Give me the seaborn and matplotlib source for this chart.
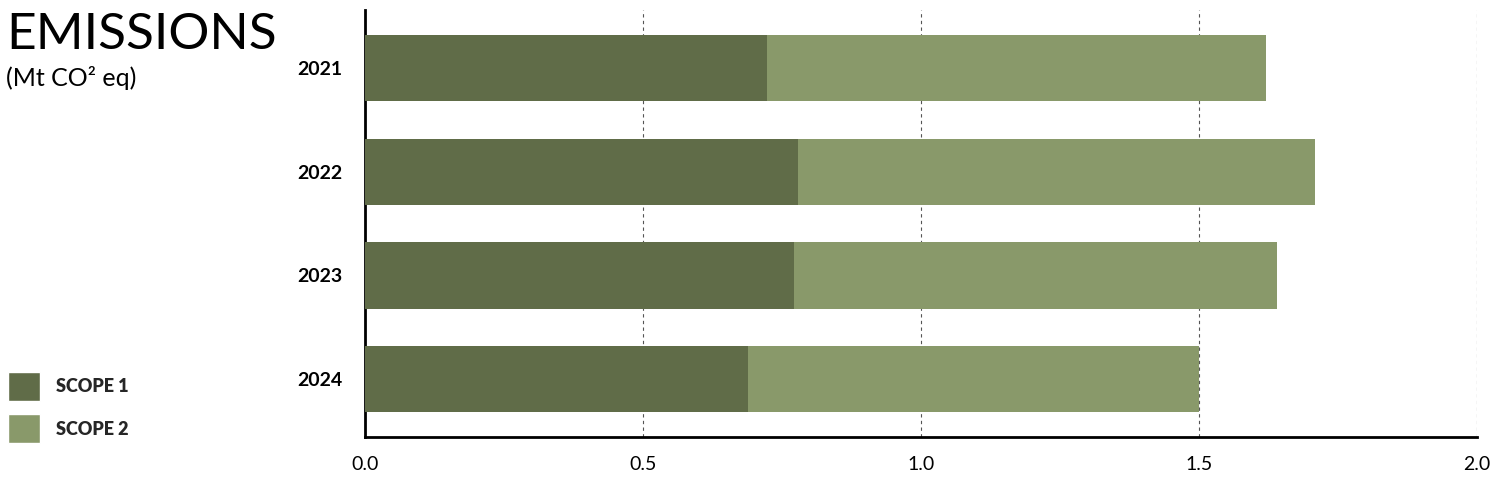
import matplotlib
matplotlib.use("Agg")
import matplotlib.pyplot as plt
import seaborn as sns
import pandas as pd
from matplotlib.patches import Patch

years = ["2021", "2022", "2023", "2024"]
scope1 = [0.723, 0.779, 0.772, 0.689]
scope2 = [0.897, 0.930, 0.868, 0.811]
x_ticks = [0.0, 0.5, 1.0, 1.5, 2.0]

DARK = "#606c48"
LIGHT = "#89996a"

sns.set_theme(style="white")
plt.rcParams["font.family"] = ["Lato", "DejaVu Sans"]

df = pd.DataFrame({"year": years, "scope1": scope1, "scope2": scope2})
df["total"] = df["scope1"] + df["scope2"]

fig = plt.figure(figsize=(15, 4.8), dpi=100)
ax = fig.add_axes([0.2433, 0.0896, 0.7414, 0.8894])

# stacked: total drawn first in light, scope 1 over it in dark
sns.barplot(data=df, x="total", y="year", orient="h", color=LIGHT,
            width=0.64, saturation=1, ax=ax, zorder=2, linewidth=0)
sns.barplot(data=df, x="scope1", y="year", orient="h", color=DARK,
            width=0.64, saturation=1, ax=ax, zorder=3, linewidth=0)

ax.set_xlim(0, 2.0)
ax.set_ylim(3.56, -0.56)
ax.set_xticks(x_ticks)
ax.set_xticklabels([f"{t:.1f}" for t in x_ticks], fontsize=14)
ax.tick_params(axis="x", length=0, pad=14)
ax.tick_params(axis="y", length=0, pad=16)
for lbl in ax.get_yticklabels():
    lbl.set_fontsize(14)
    lbl.set_fontweight("bold")
    lbl.set_color("black")
for lbl in ax.get_xticklabels():
    lbl.set_color("black")
ax.set_xlabel("")
ax.set_ylabel("")

for t in x_ticks[1:]:
    ax.axvline(t, color="#555555", linestyle=(0, (3, 3)), linewidth=0.8, zorder=1)

for s in ["top", "right"]:
    ax.spines[s].set_visible(False)
for s in ["left", "bottom"]:
    ax.spines[s].set_color("black")
    ax.spines[s].set_linewidth(2)

fig.text(0.004, 0.975, "EMISSIONS", fontsize=37, fontweight="normal",
         va="top", ha="left", color="black")
fig.text(0.004, 0.862, "(Mt CO² eq)", fontsize=18, fontweight="normal",
         va="top", ha="left", color="black")

handles = [Patch(facecolor=DARK, label="SCOPE 1"),
           Patch(facecolor=LIGHT, label="SCOPE 2")]
fig.legend(handles=handles, loc="lower left", bbox_to_anchor=(-0.003, 0.05),
           frameon=False, prop={"size": 13, "weight": "heavy"},
           handlelength=1.75, handleheight=2.1, handletextpad=0.9,
           labelspacing=0.75, borderaxespad=0.3)

fig.savefig("out.png", dpi=100, facecolor="white")
